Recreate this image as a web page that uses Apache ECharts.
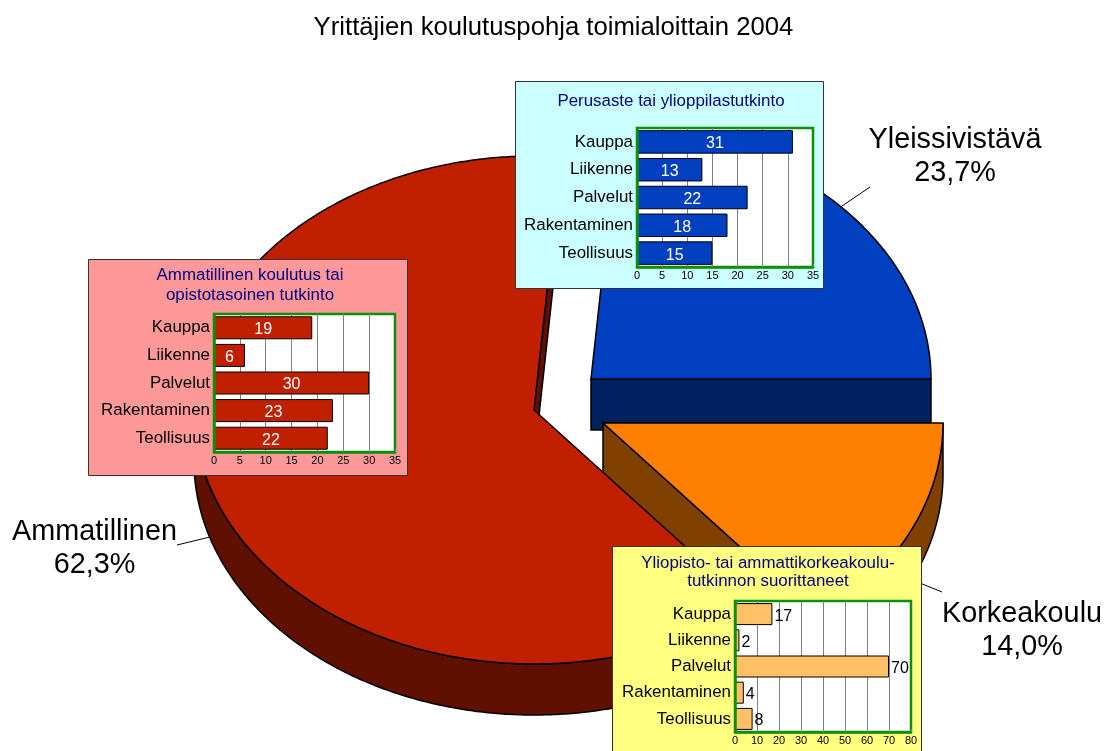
<!DOCTYPE html>
<html><head><meta charset="utf-8">
<style>html,body{margin:0;padding:0;background:#fff}#c{width:1105px;height:751px}</style>
<script src="https://cdn.jsdelivr.net/npm/echarts@6/dist/echarts.min.js"></script>
</head><body><div id="c"></div>
<script>
const mainTitle = 'Yrittäjien koulutuspohja toimialoittain 2004';
const sliceNames = ['Yleissivistävä', 'Ammatillinen', 'Korkeakoulu'];
const sliceShares = [23.7, 62.3, 14.0];
const categories = ['Kauppa', 'Liikenne', 'Palvelut', 'Rakentaminen', 'Teollisuus'];
const perusasteValues = [31, 13, 22, 18, 15];
const ammatillinenValues = [19, 6, 30, 23, 22];
const korkeaValues = [17, 2, 70, 4, 8];

const FONT = '"Liberation Sans", Arial, sans-serif';
const sliceStyle = [
  {cx: 591, cy: 379, top: '#0040C0', side: '#002060'},
  {cx: 534, cy: 410, top: '#C02000', side: '#601000'},
  {cx: 603, cy: 423, top: '#FF8000', side: '#804000'}
];
const RX = 340, RY = 254, DEPTH = 51;

const total = sliceShares.reduce((a, b) => a + b, 0);
let acc = 0;
const sectors = sliceShares.map((s, i) => {
  const r = [acc / total * 360, (acc + s) / total * 360, i];
  acc += s;
  return r;
});

function renderSlice(params, api) {
  const a0 = api.value(0), a1 = api.value(1), st = sliceStyle[api.value(2)];
  const pt = deg => {
    const t = deg * Math.PI / 180;
    return [st.cx + RX * Math.cos(t), st.cy - RY * Math.sin(t)];
  };
  const arc = [];
  for (let d = a0; d < a1; d += 0.5) arc.push(d);
  arc.push(a1);
  const apex = [st.cx, st.cy];
  const shift = p => [p[0], p[1] + DEPTH];
  const lineStyle = fill => ({fill, stroke: '#000', lineWidth: 1.5, lineJoin: 'miter'});
  const children = [];
  const p0 = pt(a0);
  children.push({type: 'polygon', shape: {points: [apex, p0, shift(p0), shift(apex)]}, style: lineStyle(st.side)});
  const front = arc.filter(d => d >= 180);
  if (front.length > 1) {
    const upper = front.map(d => pt(d));
    children.push({type: 'polygon', shape: {points: upper.concat(upper.map(shift).reverse())}, style: lineStyle(st.side)});
  }
  const face = [apex].concat(arc.map(d => pt(d)));
  children.push({type: 'polygon', shape: {points: face}, style: lineStyle(st.top)});
  return {type: 'group', children};
}

const panels = [
  {values: perusasteValues, max: 35, step: 5, bar: '#0040C0', inside: true, bg: '#CCFFFF', barW: 23.5,
   box: [515, 81, 308, 207], grid: [637, 128, 176, 139], titleLines: ['Perusaste tai ylioppilastutkinto'], titleX: 671, titleY: [101]},
  {values: ammatillinenValues, max: 35, step: 5, bar: '#C02000', inside: true, bg: '#FF9999', barW: 23,
   box: [88, 259, 319, 216], grid: [214, 314, 181, 138], titleLines: ['Ammatillinen koulutus tai', 'opistotasoinen tutkinto'], titleX: 250, titleY: [275, 295]},
  {values: korkeaValues, max: 80, step: 10, bar: '#FFC066', inside: false, bg: '#FFFF80', barW: 22,
   box: [612, 546, 309, 230], grid: [735, 601, 176, 131], titleLines: ['Yliopisto- tai ammattikorkeakoulu-', 'tutkinnon suorittaneet'], titleX: 768, titleY: [563, 581]}
];

const graphic = [];
const leaders = [
  [[842, 206], [870, 187]],
  [[177, 545], [210, 537]],
  [[915, 581], [942, 592]]
];
leaders.forEach(l => graphic.push({type: 'line', z: 5, silent: true,
  shape: {x1: l[0][0], y1: l[0][1], x2: l[1][0], y2: l[1][1]}, style: {stroke: '#000', lineWidth: 1}}));

const labelPos = [[955, 140], [94.5, 532], [1022, 614]];
sliceNames.forEach((n, i) => {
  const pct = sliceShares[i].toFixed(1).replace('.', ',') + '%';
  [n, pct].forEach((t, j) => graphic.push({type: 'text', z: 6, silent: true, x: labelPos[i][0], y: labelPos[i][1] + j * 33,
    style: {text: t, font: '28.8px ' + FONT, fill: '#000', textAlign: 'center', textVerticalAlign: 'middle'}}));
});

panels.forEach(p => {
  graphic.push({type: 'rect', z: 20, silent: true,
    shape: {x: p.box[0] + .5, y: p.box[1] + .5, width: p.box[2], height: p.box[3]},
    style: {fill: p.bg, stroke: '#333', lineWidth: 1}});
  p.titleLines.forEach((t, j) => graphic.push({type: 'text', z: 21, silent: true, x: p.titleX, y: p.titleY[j],
    style: {text: t, font: '16.9px ' + FONT, fill: '#000080', textAlign: 'center', textVerticalAlign: 'middle'}}));
});

const GREEN = '#0C900C';
const grids = panels.map(p => ({left: p.grid[0], top: p.grid[1], width: p.grid[2], height: p.grid[3],
  show: true, backgroundColor: '#fff', borderColor: GREEN, borderWidth: 2.5, z: 30, containLabel: false}));
const xAxes = panels.map((p, i) => ({type: 'value', gridIndex: i, min: 0, max: p.max, interval: p.step, z: 31,
  axisLine: {show: true, lineStyle: {color: GREEN, width: 2.5}},
  axisTick: {show: true, inside: true, length: 3, lineStyle: {color: '#808080'}},
  minorTick: {show: false},
  axisLabel: {color: '#000', fontFamily: FONT, fontSize: 11, margin: 3, showMinLabel: true, showMaxLabel: true, hideOverlap: false},
  splitLine: {show: true, showMinLine: false, showMaxLine: false, lineStyle: {color: '#808080', width: 1}}}));
const yAxes = panels.map((p, i) => ({type: 'category', gridIndex: i, data: categories, inverse: true, z: 33,
  axisLine: {show: true, lineStyle: {color: GREEN, width: 2.5}},
  axisTick: {show: false},
  axisLabel: {color: '#000', fontFamily: FONT, fontSize: 16.9, margin: 4, padding: [4, 0, 0, 0]},
  splitLine: {show: false}}));
const barSeries = panels.map((p, i) => ({type: 'bar', xAxisIndex: i, yAxisIndex: i, data: p.values, barWidth: p.barW, z: 32,
  itemStyle: {color: p.bar, borderColor: '#000', borderWidth: 1},
  label: {show: true, position: p.inside ? 'inside' : 'right', distance: 2, offset: [0, 2], color: p.inside ? '#fff' : '#000', fontFamily: FONT, fontSize: 16}}));

const chart = echarts.init(document.getElementById('c'), null, {renderer: 'canvas'});
chart.setOption({
  animation: false,
  backgroundColor: '#fff',
  title: {text: mainTitle, left: 553.5, top: 15, padding: 0, textAlign: 'center',
    textStyle: {color: '#000', fontFamily: FONT, fontSize: 25.7, fontWeight: 'normal'}},
  grid: grids, xAxis: xAxes, yAxis: yAxes, graphic,
  series: [{type: 'custom', coordinateSystem: 'none', silent: true, z: 1, renderItem: renderSlice,
    data: [sectors[0], sectors[2], sectors[1]], clip: false}].concat(barSeries)
});
</script></body></html>
